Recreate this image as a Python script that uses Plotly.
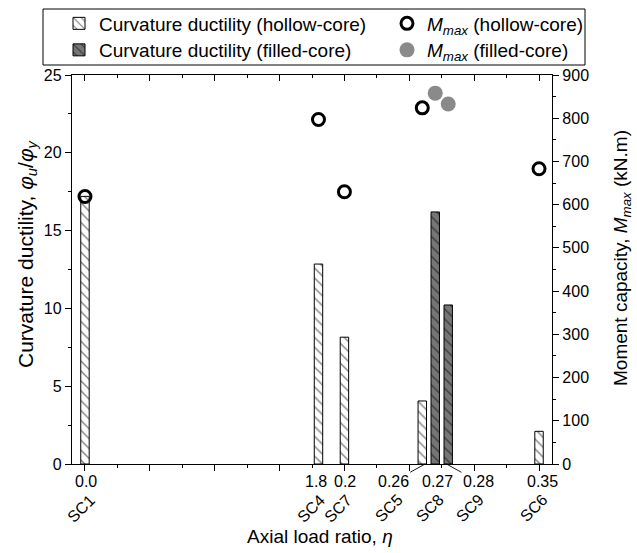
import plotly.graph_objects as go

# ---------------- data ----------------
specimens = ["SC1", "SC4", "SC7", "SC5", "SC8", "SC9", "SC6"]
eta_values = [0.0, 0.18, 0.20, 0.26, 0.27, 0.28, 0.35]
eta_labels = ["0.0", "1.8", "0.2", "0.26", "0.27", "0.28", "0.35"]

hollow_eta = [0.0, 0.18, 0.20, 0.26, 0.35]
hollow_ductility = [17.2, 12.85, 8.15, 4.05, 2.1]
hollow_mmax = [619, 797, 630, 824, 683]

filled_eta = [0.27, 0.28]
filled_ductility = [16.2, 10.22]
filled_mmax = [858, 833]

# ---------------- styling / layout helpers ----------------
FONT = "Arial, 'Liberation Sans', sans-serif"
W, H = 637, 553
M_L, M_R, M_T, M_B = 72, 85, 75, 89
PLOT_W = W - M_L - M_R
PLOT_H = H - M_T - M_B


def px_x(p):
    return (p - M_L) / PLOT_W


def px_y(p):
    return (M_T + PLOT_H - p) / PLOT_H


# pixel offsets of the custom axis labels (label style, not data)
num_dx = [1, -2, 1, 0, 2, 0, 3]
sc_dx = [-4, -7.5, -6.5, -34, -6, 21, -6]
leader = {"0.26": (2.8, -31.7, 17.7), "0.28": (-1.8, 32, 17.7)}

LEG_FONT = 19
ROW1, ROW2 = 23.5, 50
COL1, COL2 = 59, 387

fig = go.Figure()

fig.add_trace(go.Bar(
    x=hollow_eta, y=hollow_ductility, width=0.0065,
    name="Curvature ductility (hollow-core)", legend="legend",
    marker=dict(color="white", line=dict(color="black", width=1),
                pattern=dict(shape="\\", fgcolor="black", bgcolor="white",
                             size=7, solidity=0.2)),
))
fig.add_trace(go.Bar(
    x=filled_eta, y=filled_ductility, width=0.0065,
    name="Curvature ductility (filled-core)", legend="legend3",
    marker=dict(color="#767676", line=dict(color="black", width=1),
                pattern=dict(shape="\\", fgcolor="black", bgcolor="#767676",
                             size=7, solidity=0.2)),
))
fig.add_trace(go.Scatter(
    x=hollow_eta, y=hollow_mmax, yaxis="y2", mode="markers",
    name="<i>M</i><sub><i>max</i></sub> (hollow-core)", legend="legend2",
    marker=dict(symbol="circle-open", size=12, color="black",
                line=dict(width=3, color="black")),
))
fig.add_trace(go.Scatter(
    x=filled_eta, y=filled_mmax, yaxis="y2", mode="markers",
    name="<i>M</i><sub><i>max</i></sub> (filled-core)", legend="legend4",
    marker=dict(symbol="circle", size=15, color="#8a8a8a", line=dict(width=0)),
))
# helper trace so the top (mirror) axis is drawn
fig.add_trace(go.Scatter(x=[None], y=[None], xaxis="x2", yaxis="y",
                         showlegend=False, hoverinfo="skip"))

axis_common = dict(showline=True, linecolor="black", linewidth=1.3,
                   showgrid=False, zeroline=False, tickcolor="black",
                   tickwidth=1.2)


def leg(xp, yp):
    return dict(xref="container", yref="container", x=xp / W, y=1 - yp / H,
                xanchor="left", yanchor="middle", orientation="v",
                bgcolor="rgba(0,0,0,0)", borderwidth=0,
                font=dict(size=LEG_FONT), itemwidth=30)


fig.update_layout(
    width=W, height=H, autosize=False,
    margin=dict(l=M_L, r=M_R, t=M_T, b=M_B, pad=0, autoexpand=False),
    plot_bgcolor="white", paper_bgcolor="white",
    font=dict(family=FONT, size=16, color="black"),
    barmode="overlay",
    xaxis=dict(range=[-0.01, 0.36], tickmode="linear", tick0=0, dtick=0.05,
               ticks="outside", ticklen=6, showticklabels=False,
               minor=dict(tick0=0, dtick=0.025, ticks="outside", ticklen=3,
                          tickwidth=1.2, tickcolor="black"),
               automargin=False, **axis_common),
    xaxis2=dict(range=[-0.01, 0.36], overlaying="x", side="top", anchor="y",
                tickmode="linear", tick0=0, dtick=0.05, ticks="inside",
                ticklen=6, showticklabels=False,
                minor=dict(tick0=0, dtick=0.025, ticks="inside", ticklen=3,
                           tickwidth=1.2, tickcolor="black"),
                automargin=False, **axis_common),
    yaxis=dict(range=[0, 25], tickmode="linear", tick0=0, dtick=5,
               ticks="outside", ticklen=6, tickfont=dict(size=16),
               minor=dict(tick0=0, dtick=2.5, ticks="outside", ticklen=3,
                          tickwidth=1.2, tickcolor="black"),
               automargin=False, **axis_common),
    yaxis2=dict(range=[0, 900], overlaying="y", side="right", anchor="x",
                tickmode="linear", tick0=0, dtick=100, ticks="outside",
                ticklen=6, tickfont=dict(size=16),
                minor=dict(tick0=0, dtick=50, ticks="outside", ticklen=3,
                           tickwidth=1.2, tickcolor="black"),
                automargin=False, **axis_common),
    legend=leg(COL1, ROW1),
    legend2=leg(COL2, ROW1),
    legend3=leg(COL1, ROW2),
    legend4=leg(COL2, ROW2),
    showlegend=True,
)

# axis titles
fig.add_annotation(xref="paper", yref="paper", x=px_x(320), y=px_y(536),
                   text="Axial load ratio, <i>η</i>", showarrow=False,
                   xanchor="center", yanchor="middle", font=dict(size=19))
fig.add_annotation(xref="paper", yref="paper", x=px_x(27), y=px_y(254),
                   text="Curvature ductility, <i>φ</i><sub><i>u</i></sub>/<i>φ</i><sub><i>y</i></sub>",
                   showarrow=False, textangle=-90, xanchor="center",
                   yanchor="middle", font=dict(size=21))
fig.add_annotation(xref="paper", yref="paper", x=px_x(622), y=px_y(258),
                   text="Moment capacity, <i>M</i><sub><i>max</i></sub> (kN.m)",
                   showarrow=False, textangle=-90, xanchor="center",
                   yanchor="middle", font=dict(size=19))

# legend frame
fig.add_shape(type="rect", xref="paper", yref="paper",
              x0=px_x(43), x1=px_x(585), y0=px_y(65), y1=px_y(9),
              line=dict(color="black", width=1), fillcolor="rgba(0,0,0,0)",
              layer="below")

# custom x labels (eta values and specimen names)
for i, (xv, lab, name) in enumerate(zip(eta_values, eta_labels, specimens)):
    if lab in leader:
        dx, ax, ay = leader[lab]
        fig.add_annotation(x=xv, y=0, xref="x", yref="y", text=lab,
                           showarrow=True, arrowhead=0, arrowwidth=0.9,
                           arrowcolor="black", standoff=0, startstandoff=0,
                           ax=ax, ay=ay, xshift=dx, font=dict(size=16))
    else:
        fig.add_annotation(x=xv, y=0, xref="x", yref="y", text=lab,
                           showarrow=False, xanchor="center", yanchor="middle",
                           xshift=num_dx[i], yshift=-17.7, font=dict(size=16))
    fig.add_annotation(x=xv, y=0, xref="x", yref="y", text=name,
                       showarrow=False, xanchor="center", yanchor="middle",
                       textangle=-45, xshift=sc_dx[i], yshift=-44,
                       font=dict(size=16))

fig.write_html("out.html")
